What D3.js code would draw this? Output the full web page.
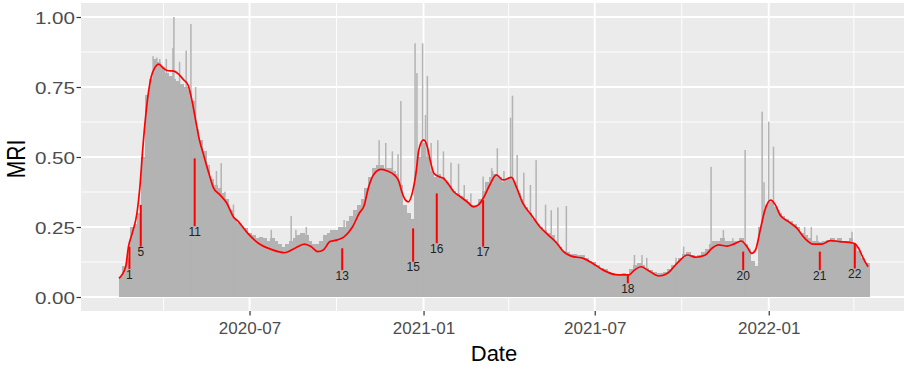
<!DOCTYPE html>
<html>
<head>
<meta charset="utf-8">
<script src="https://cdn.jsdelivr.net/npm/d3@7"></script>
<style>
  html, body { margin: 0; padding: 0; background: #ffffff; }
  svg { display: block; font-family: "Liberation Sans", Arial, sans-serif; }
</style>
</head>
<body>
<script>
// ---------------- DATA ----------------
const startDateStr = "2020-02-14";   // first day of the daily MRI series
const lastDay = 793;                  // index of the last day (2022-04-16)

// gray daily bars, summarised in 4-day groups (body of the distribution)
const bodyStep = 4;
const bodyValues = [
  0.07,0.11,0.14,0.25,0.26,0.30,0.50,0.72,0.78,0.85,
  0.84,0.82,0.80,0.79,0.78,0.77,0.76,0.75,0.74,0.70,
  0.60,0.56,0.52,0.47,0.42,0.40,0.39,0.37,0.35,0.31,
  0.28,0.265,0.25,0.245,0.23,0.22,0.21,0.215,0.21,0.20,
  0.21,0.20,0.19,0.18,0.19,0.20,0.21,0.22,0.23,0.22,
  0.20,0.19,0.19,0.20,0.22,0.23,0.24,0.24,0.25,0.25,
  0.27,0.29,0.31,0.33,0.35,0.39,0.43,0.46,0.47,0.47,
  0.46,0.46,0.45,0.44,0.40,0.33,0.30,0.28,0.45,0.50,
  0.55,0.50,0.45,0.43,0.44,0.43,0.41,0.40,0.38,0.37,
  0.36,0.35,0.34,0.33,0.33,0.35,0.38,0.41,0.43,0.44,
  0.43,0.41,0.42,0.43,0.41,0.37,0.35,0.32,0.30,0.28,
  0.26,0.25,0.24,0.23,0.22,0.20,0.18,0.165,0.16,0.155,
  0.155,0.15,0.15,0.14,0.13,0.125,0.115,0.105,0.10,0.09,
  0.085,0.08,0.08,0.085,0.08,0.10,0.115,0.12,0.115,0.105,
  0.095,0.09,0.085,0.085,0.09,0.10,0.115,0.125,0.14,0.155,
  0.16,0.15,0.145,0.15,0.16,0.17,0.19,0.20,0.20,0.21,
  0.20,0.20,0.20,0.20,0.21,0.19,0.17,0.13,0.11,0.25,
  0.31,0.33,0.34,0.32,0.30,0.29,0.28,0.27,0.26,0.25,
  0.23,0.22,0.21,0.20,0.20,0.195,0.20,0.205,0.21,0.205,
  0.21,0.20,0.20,0.21,0.19,0.165,0.14,0.12
];

// single-day spikes standing out of the body (day index, value)
const spikeDays = [36,40,43,50,57,58,64,71,76,81,103,108,112,121,161,182,187,198,238,254,
  275,282,289,295,298,313,315,321,324,326,330,337,343,351,359,365,372,385,394,395,400,407,
  414,416,421,428,435,441,451,457,464,473,545,553,558,589,597,626,639,649,662,680,682,687,
  692,725,732,738,775];
const spikeValues = [0.86,0.855,0.85,0.85,0.89,1.0,0.84,0.88,0.975,0.75,0.45,0.478,0.376,0.33,
  0.24,0.289,0.24,0.25,0.275,0.325,0.56,0.55,0.52,0.51,0.70,0.906,0.80,0.906,0.65,0.789,0.55,
  0.56,0.52,0.48,0.476,0.40,0.37,0.43,0.46,0.45,0.531,0.45,0.64,0.719,0.507,0.444,0.40,0.489,
  0.33,0.31,0.32,0.325,0.15,0.15,0.14,0.14,0.18,0.465,0.239,0.21,0.525,0.662,0.41,0.626,
  0.537,0.25,0.25,0.22,0.233];

// red smoothed trend (day index, value)
const trendDays = [0,7,10,14,19,22,25,28,31,34,38,42,47,52,58,63,68,73,77,81,85,89,95,100,107,
  114,121,126,136,147,161,175,186,196,203,210,216,223,231,238,247,254,259,264,269,277,283,291,
  296,299,303,306,310,314,317,322,326,329,333,338,343,349,354,361,368,375,380,386,392,399,406,
  415,420,427,436,445,454,463,470,478,491,501,512,525,532,539,545,552,560,571,580,590,601,610,
  620,627,634,643,650,658,664,669,673,678,683,689,694,699,708,717,725,734,743,752,762,777,782,
  787,792];
const trendValues = [0.067,0.108,0.18,0.228,0.30,0.39,0.525,0.64,0.728,0.786,0.82,0.832,0.817,
  0.808,0.807,0.796,0.777,0.757,0.704,0.632,0.561,0.513,0.442,0.389,0.364,0.335,0.286,0.27,
  0.228,0.193,0.170,0.158,0.174,0.189,0.180,0.162,0.168,0.198,0.204,0.215,0.251,0.299,0.325,
  0.394,0.436,0.456,0.451,0.436,0.412,0.376,0.346,0.340,0.370,0.442,0.525,0.561,0.537,0.489,
  0.442,0.430,0.424,0.40,0.376,0.358,0.340,0.322,0.329,0.358,0.40,0.436,0.418,0.427,0.394,
  0.335,0.293,0.251,0.221,0.192,0.162,0.146,0.138,0.120,0.096,0.08,0.079,0.079,0.096,0.108,
  0.094,0.075,0.085,0.120,0.15,0.142,0.15,0.174,0.186,0.182,0.189,0.20,0.18,0.156,0.168,0.239,
  0.311,0.346,0.329,0.293,0.269,0.245,0.21,0.189,0.189,0.201,0.198,0.192,0.174,0.138,0.108];

// numbered red event markers
const markerIds = ["1","5","11","13","15","16","17","18","20","21","22"];
const markerDays = [11,23,80,236,311,336,385,538,660,741,778];
const markerTop = [0.18,0.329,0.495,0.174,0.245,0.370,0.346,0.079,0.162,0.162,0.192];
const markerBottom = [0.10,0.18,0.253,0.096,0.126,0.192,0.18,0.049,0.096,0.096,0.102];

// axes
const yBreaks = [0, 0.25, 0.5, 0.75, 1.0];
const yMinor = [0.125, 0.375, 0.625, 0.875];
const xBreaks = ["2020-07-01","2021-01-01","2021-07-01","2022-01-01"];
const xMinor = ["2020-04-01","2020-10-01","2021-04-01","2021-10-01","2022-04-01"];
const xTitle = "Date";
const yTitle = "MRI";

// ---------------- DRAWING ----------------
const W = 904, H = 366;
const panel = {left: 81, right: 907, top: 3, bottom: 311};
const parse = d3.utcParse("%Y-%m-%d");
const start = parse(startDateStr);
const DAY = 864e5;
const dayF = d => new Date(+start + d * DAY);

const span = lastDay + 1;
const x = d3.scaleUtc()
  .domain([dayF(-0.5 - 0.05 * span), dayF(lastDay + 0.5 + 0.05 * span)])
  .range([panel.left, panel.right]);
const y = d3.scaleLinear().domain([-0.05, 1.05]).range([panel.bottom, panel.top]);

const svg = d3.select("body").append("svg").attr("width", W).attr("height", H);

svg.append("defs").append("clipPath").attr("id", "clip")
  .append("rect").attr("x", panel.left).attr("y", panel.top)
  .attr("width", panel.right - panel.left).attr("height", panel.bottom - panel.top);

svg.append("rect").attr("x", panel.left).attr("y", panel.top)
  .attr("width", panel.right - panel.left).attr("height", panel.bottom - panel.top)
  .attr("fill", "#EBEBEB");

const g = svg.append("g").attr("clip-path", "url(#clip)");

// grid
g.selectAll(".ymin").data(yMinor).join("line")
  .attr("x1", panel.left).attr("x2", panel.right)
  .attr("y1", d => y(d)).attr("y2", d => y(d))
  .attr("stroke", "#fff").attr("stroke-width", 0.9);
g.selectAll(".xmin").data(xMinor.map(parse)).join("line")
  .attr("y1", panel.top).attr("y2", panel.bottom)
  .attr("x1", d => x(d)).attr("x2", d => x(d))
  .attr("stroke", "#fff").attr("stroke-width", 0.9);
g.selectAll(".ymaj").data(yBreaks).join("line")
  .attr("x1", panel.left).attr("x2", panel.right)
  .attr("y1", d => y(d)).attr("y2", d => y(d))
  .attr("stroke", "#fff").attr("stroke-width", 1.9);
g.selectAll(".xmaj").data(xBreaks.map(parse)).join("line")
  .attr("y1", panel.top).attr("y2", panel.bottom)
  .attr("x1", d => x(d)).attr("x2", d => x(d))
  .attr("stroke", "#fff").attr("stroke-width", 1.9);

// bars (body)
const barColor = "#B3B3B3";
const body = bodyValues.map((v, k) => {
  const d0 = k * bodyStep - 0.5;
  const d1 = (k === bodyValues.length - 1) ? lastDay + 0.5 : (k + 1) * bodyStep - 0.5;
  return {d0, d1, v};
});
g.selectAll(".body").data(body).join("rect")
  .attr("x", d => x(dayF(d.d0)))
  .attr("width", d => x(dayF(d.d1)) - x(dayF(d.d0)) + 1)
  .attr("y", d => y(d.v))
  .attr("height", d => y(0) - y(d.v))
  .attr("shape-rendering", "crispEdges")
  .attr("fill", barColor);

// spikes
const spikes = spikeDays.map((d, i) => ({d, v: spikeValues[i]}));
g.selectAll(".spike").data(spikes).join("rect")
  .attr("x", d => x(dayF(d.d - 0.5)) - 0.25)
  .attr("width", 1.5)
  .attr("y", d => y(d.v))
  .attr("height", d => y(0) - y(d.v))
  .attr("fill", barColor);

// trend line
const trend = trendDays.map((d, i) => ({d, v: trendValues[i]}));
g.append("path").datum(trend)
  .attr("fill", "none").attr("stroke", "#FF0000").attr("stroke-width", 1.7)
  .attr("stroke-linejoin", "round")
  .attr("d", d3.line().x(d => x(dayF(d.d))).y(d => y(d.v)).curve(d3.curveMonotoneX));

// markers
const markers = markerIds.map((id, i) => ({id, d: markerDays[i], top: markerTop[i], bot: markerBottom[i]}));
g.selectAll(".mk").data(markers).join("line")
  .attr("x1", d => x(dayF(d.d))).attr("x2", d => x(dayF(d.d)))
  .attr("y1", d => y(d.top)).attr("y2", d => y(d.bot))
  .attr("stroke", "#FF0000").attr("stroke-width", 2);
g.selectAll(".mkl").data(markers).join("text")
  .attr("x", d => x(dayF(d.d))).attr("y", d => y(d.bot) + 9.5)
  .attr("text-anchor", "middle").attr("font-size", 12).attr("fill", "#222")
  .text(d => d.id);

// axes
const xAxis = d3.axisBottom(x).tickValues(xBreaks.map(parse))
  .tickFormat(d3.utcFormat("%Y-%m")).tickSize(4.5).tickPadding(6);
const gx = svg.append("g").attr("transform", `translate(0,${panel.bottom})`).call(xAxis);
gx.select(".domain").remove();
gx.selectAll(".tick line").attr("stroke", "#333").attr("stroke-width", 1.2);
gx.selectAll(".tick text").attr("fill", "#4D4D4D").attr("font-size", 17)
  .attr("font-family", "Liberation Sans, Arial, sans-serif");

const yAxis = d3.axisLeft(y).tickValues(yBreaks).tickFormat(d3.format(".2f")).tickSize(4.5).tickPadding(5);
const gy = svg.append("g").attr("transform", `translate(${panel.left},0)`).call(yAxis);
gy.select(".domain").remove();
gy.selectAll(".tick line").attr("stroke", "#333").attr("stroke-width", 1.2);
gy.selectAll(".tick text").attr("fill", "#4D4D4D").attr("font-size", 16.5)
  .attr("font-family", "Liberation Sans, Arial, sans-serif")
  .attr("x", null).attr("dy", null)
  .attr("transform", "translate(-6,6) scale(1.25,1)")
  .attr("dx", null);

// titles
svg.append("text").attr("x", (panel.left + panel.right) / 2).attr("y", 361)
  .attr("text-anchor", "middle").attr("font-size", 22).attr("fill", "#000").text(xTitle);
svg.append("text").attr("transform", "translate(25,159) scale(1.2,1) rotate(-90)")
  .attr("text-anchor", "middle").attr("font-size", 21).attr("fill", "#000").text(yTitle);
</script>
</body>
</html>
